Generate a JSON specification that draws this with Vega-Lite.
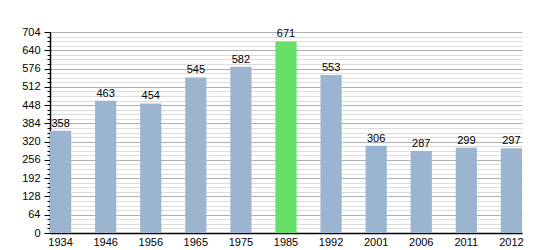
{
  "$schema": "https://vega.github.io/schema/vega-lite/v6.json",
  "autosize": "none",
  "width": 472,
  "height": 201,
  "padding": {"left": 50, "top": 32, "right": 28, "bottom": 17},
  "background": "white",
  "config": {"view": {"stroke": null}, "font": "Liberation Sans"},
  "data": {"values": [
    {"year": "1934", "pop": 358},
    {"year": "1946", "pop": 463},
    {"year": "1956", "pop": 454},
    {"year": "1965", "pop": 545},
    {"year": "1975", "pop": 582},
    {"year": "1985", "pop": 671},
    {"year": "1992", "pop": 553},
    {"year": "2001", "pop": 306},
    {"year": "2006", "pop": 287},
    {"year": "2011", "pop": 299},
    {"year": "2012", "pop": 297}
  ]},
  "encoding": {
    "x": {"field": "year", "type": "nominal", "sort": null,
      "scale": {"paddingInner": 0.53, "paddingOuter": 0},
      "axis": {"title": null, "labelAngle": 0, "labelFontSize": 11, "labelColor": "#000", "domainColor": "#000", "domainWidth": 1.5, "ticks": false, "labelPadding": 3}},
    "y": {"field": "pop", "type": "quantitative",
      "scale": {"domain": [0, 704], "nice": false},
      "axis": {"title": null,
        "values": [0,16,32,48,64,80,96,112,128,144,160,176,192,208,224,240,256,272,288,304,320,336,352,368,384,400,416,432,448,464,480,496,512,528,544,560,576,592,608,624,640,656,672,688,704],
        "labelExpr": "datum.value % 64 === 0 ? datum.label : ''",
        "labelFontSize": 11, "labelColor": "#000", "labelPadding": 4,
        "domainColor": "#000", "domainWidth": 1.5,
        "tickColor": "#000",
        "tickSize": {"condition": {"test": "datum.value % 64 === 0", "value": 6}, "value": 3},
        "grid": true,
        "gridColor": {"condition": {"test": "datum.value % 64 === 0", "value": "#b0b0b0"}, "value": "#dcdcdc"},
        "gridWidth": 1}}
  },
  "layer": [
    {"mark": {"type": "bar"},
     "encoding": {"color": {"condition": {"test": "datum.year === '1985'", "value": "#66e066"}, "value": "#9bb4cf"}}},
    {"mark": {"type": "text", "dy": -7, "fontSize": 11, "color": "#000"},
     "encoding": {"text": {"field": "pop", "type": "quantitative"}}}
  ]
}
